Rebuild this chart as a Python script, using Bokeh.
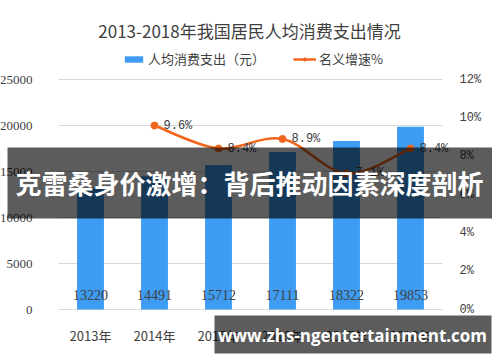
from bokeh.plotting import figure
from bokeh.models import (Range1d, LinearAxis, FixedTicker, PrintfTickFormatter,
                          Legend, LegendItem, Label, BoxAnnotation)
from bokeh.core.properties import value
from bokeh.embed import file_html
from bokeh.resources import INLINE

# ---- data ----
years = ["2013年", "2014年", "2015年", "2016年", "2017年", "2018年"]
spending = [13220, 14491, 15712, 17111, 18322, 19853]
growth_years = ["2014年", "2015年", "2016年", "2017年", "2018年"]
growth = [9.6, 8.4, 8.9, 7.1, 8.4]
left_ticks = [0, 5000, 10000, 15000, 20000, 25000]
right_ticks = [0, 2, 4, 6, 8, 10, 12]

title_text = "2013-2018年我国居民人均消费支出情况"
bar_name = "人均消费支出（元）"
line_name = "名义增速%"
banner_text = "克雷桑身价激增：背后推动因素深度剖析"
url_text = "www.zhs-ngentertainment.com"

# ---- layout (pixels) ----
W, H = 492, 354
FL, FR, FT, FB = 58, 442, 79, 309          # plot area inside the canvas
LMAX, RMAX = 25000, 12

BLUE = "#3E9CF2"
ORANGE = "#F2661C"
CJK = "Noto Sans CJK SC"
TXT = "#404040"

ncat = len(years)
slot = (FR - FL) / ncat
ypx = LMAX / (FB - FT)
rpx = RMAX / (FB - FT)
xr = Range1d(-0.5 - FL / slot, -0.5 + (W - FL) / slot)
yr = Range1d(-(H - FB) * ypx, LMAX + FT * ypx)

xi = list(range(ncat))
gx = [years.index(y) for y in growth_years]

p = figure(width=W, height=H, output_backend="svg", toolbar_location=None,
           x_range=xr, y_range=yr, min_border=0,
           min_border_left=0, min_border_right=0, min_border_top=0, min_border_bottom=0)
p.outline_line_color = None
p.extra_y_ranges = {"pct": Range1d(-(H - FB) * rpx, RMAX + FT * rpx)}

x_lo = -0.5
x_hi = ncat - 0.5

# gridlines
p.segment(x0=[x_lo] * len(left_ticks), x1=[x_hi] * len(left_ticks),
          y0=left_ticks, y1=left_ticks, line_color="#D9D9D9", line_width=1)

# bars
bars = p.vbar(x=xi, top=spending, width=0.42, color=BLUE, line_color=None)

# smooth line (Catmull-Rom -> cubic bezier)
n = len(gx)
x0s, y0s, x1s, y1s, cx0s, cy0s, cx1s, cy1s = [], [], [], [], [], [], [], []
for i in range(n - 1):
    xm, ym = (gx[i - 1], growth[i - 1]) if i > 0 else (gx[i], growth[i])
    xa, ya = gx[i], growth[i]
    xb, yb = gx[i + 1], growth[i + 1]
    xc, yc = (gx[i + 2], growth[i + 2]) if i + 2 < n else (xb, yb)
    x0s.append(xa); y0s.append(ya); x1s.append(xb); y1s.append(yb)
    cx0s.append(xa + (xb - xm) / 6); cy0s.append(ya + (yb - ym) / 6)
    cx1s.append(xb - (xc - xa) / 6); cy1s.append(yb - (yc - ya) / 6)
curve = p.bezier(x0=x0s, y0=y0s, x1=x1s, y1=y1s, cx0=cx0s, cy0=cy0s, cx1=cx1s, cy1=cy1s,
                 line_color=ORANGE, line_width=2.5, y_range_name="pct")
dots = p.scatter(x=gx, y=growth, size=7, color=ORANGE, y_range_name="pct")

# data labels
p.text(x=gx, y=growth, text=[f"{g}%" for g in growth], y_range_name="pct",
       x_offset=9, text_baseline="middle", text_align="left",
       text_font=value("Liberation Mono"), text_font_size="12px", text_color=TXT)
p.text(x=xi, y=[0] * ncat, text=[str(s) for s in spending], y_offset=-15,
       text_baseline="middle", text_align="center",
       text_font=value("Liberation Serif"), text_font_size="14px", text_color=TXT)

# axes (fixed at the plot-area edges)
p.xgrid.grid_line_color = None
p.ygrid.grid_line_color = None

ya = p.yaxis[0]
ya.ticker = FixedTicker(ticks=left_ticks)
ya.fixed_location = x_lo
ya.major_label_text_font = "Liberation Serif"
ya.major_label_text_font_size = "13px"
ya.major_label_standoff = 20

xa_ = p.xaxis[0]
xa_.ticker = FixedTicker(ticks=xi)
xa_.major_label_overrides = {i: y for i, y in enumerate(years)}
xa_.fixed_location = 0
xa_.major_label_text_font = CJK
xa_.major_label_text_font_size = "13px"
xa_.major_label_standoff = 10

ra = LinearAxis(y_range_name="pct", ticker=FixedTicker(ticks=right_ticks),
                formatter=PrintfTickFormatter(format="%d%%"))
ra.fixed_location = x_hi
ra.major_label_text_font = "Liberation Mono"
ra.major_label_text_font_size = "12px"
ra.major_label_standoff = 11
p.add_layout(ra, "right")

for ax in (xa_, ya, ra):
    ax.axis_line_color = None
    ax.major_tick_line_color = None
    ax.minor_tick_line_color = None
    ax.major_label_text_color = TXT

# legend
legend = Legend(items=[LegendItem(label=bar_name, renderers=[bars]),
                       LegendItem(label=line_name, renderers=[curve, dots])],
                orientation="horizontal", location=(122, H - 68),
                glyph_width=23, glyph_height=8, label_standoff=3, spacing=28,
                padding=0, margin=0, border_line_color=None, background_fill_alpha=0,
                label_text_font=CJK, label_text_font_size="13px", label_text_color=TXT)
p.add_layout(legend, "center")

# title
p.add_layout(Label(x=249, y=30, x_units="canvas", y_units="canvas", text=title_text,
                   text_align="center", text_baseline="middle", text_font=CJK,
                   text_font_size="17px", text_color=TXT))

# overlay banners
p.add_layout(BoxAnnotation(left=7, right=492, top=147, bottom=218,
                           left_units="canvas", right_units="canvas",
                           top_units="canvas", bottom_units="canvas",
                           fill_color="black", fill_alpha=0.64, line_color=None,
                           level="overlay"))
p.add_layout(Label(x=249, y=182, x_units="canvas", y_units="canvas", text=banner_text,
                   text_align="center", text_baseline="middle", text_font=CJK,
                   text_font_style="bold", text_font_size="26px", text_color="white",
                   level="overlay"))
p.add_layout(BoxAnnotation(left=214, right=491, top=315, bottom=353,
                           left_units="canvas", right_units="canvas",
                           top_units="canvas", bottom_units="canvas",
                           fill_color="black", fill_alpha=0.64, line_color=None,
                           level="overlay"))
p.add_layout(Label(x=352, y=335, x_units="canvas", y_units="canvas", text=url_text,
                   text_align="center", text_baseline="middle", text_font="Open Sans",
                   text_font_style="bold", text_font_size="17px", text_color="white",
                   level="overlay"))

open("out.html", "w").write(file_html(p, INLINE))
